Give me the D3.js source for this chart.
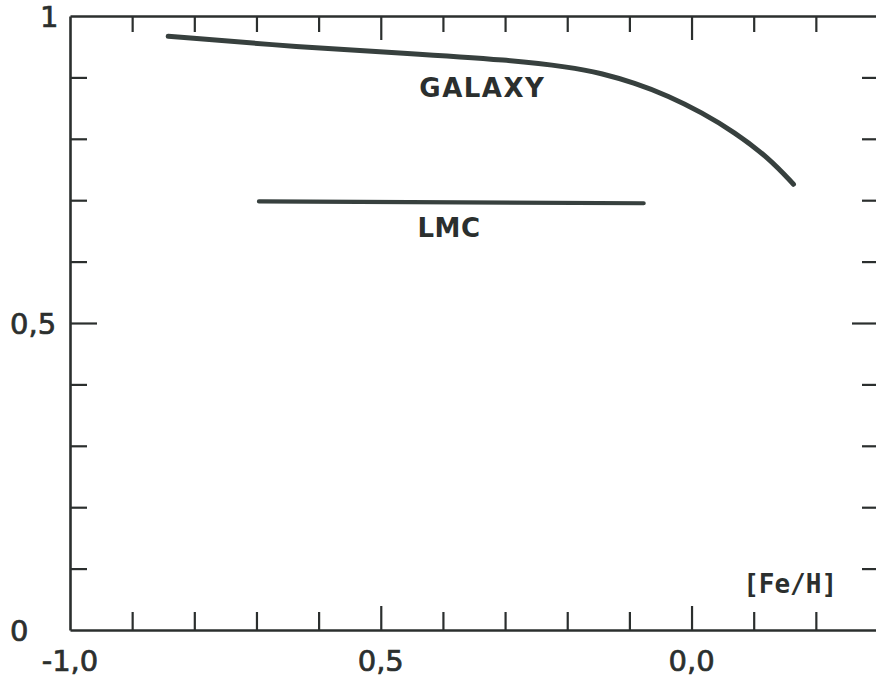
<!DOCTYPE html>
<html>
<head>
<meta charset="utf-8">
<script src="https://cdn.jsdelivr.net/npm/d3@7"></script>
<style>
  body { margin: 0; background: #fff; }
  svg { display: block; }
</style>
</head>
<body>
<svg id="chart" width="876" height="683"></svg>
<script>
// Galaxy relation: [Fe/H] vs ratio
const galaxyFeH   = [-0.842, -0.627, -0.466, -0.289, -0.198, -0.145, -0.092, -0.037, 0.016, 0.069, 0.124, 0.164];
const galaxyRatio = [ 0.967,  0.949,  0.940,  0.928,  0.917,  0.907,  0.891,  0.870, 0.843, 0.811, 0.769, 0.726];

// LMC relation
const lmcFeH   = [-0.696, -0.077];
const lmcRatio = [ 0.698,  0.695];

// Axis ticks and labels
const xMinorTicks = [-0.9, -0.8, -0.7, -0.6, -0.4, -0.3, -0.2, -0.1, 0.1, 0.2];
const xMajorTicks = [-0.5, 0.0];
const xLabelValues = [-1.0, -0.5, 0.0];
const xLabelTexts  = ["-1,0", "0,5", "0,0"];

const yMinorTicks = [0.1, 0.2, 0.3, 0.4, 0.6, 0.7, 0.8, 0.9];
const yMajorTicks = [0.5];
const yLabelValues = [0, 0.5, 1];
const yLabelTexts  = ["0", "0,5", "1"];

const seriesNames = ["GALAXY", "LMC"];
const axisTitle = "[Fe/H]";

const svg = d3.select("#chart");
const ink = "#2b2f2e";
const curveInk = "#37403e";

const x = d3.scaleLinear().domain([-1.0, 0.3]).range([70, 878]);
const y = d3.scaleLinear().domain([0, 1]).range([630, 16]);

// Frame axes with inward ticks
function drawAxis(axisGen, tx, ty, minor, major, minorLen, majorLen) {
  const g = svg.append("g").attr("transform", `translate(${tx},${ty})`);
  g.call(axisGen.tickValues(minor).tickSize(-minorLen).tickSizeOuter(0).tickFormat(""));
  const gm = svg.append("g").attr("transform", `translate(${tx},${ty})`);
  gm.call(axisGen.tickValues(major).tickSize(-majorLen).tickSizeOuter(0).tickFormat(""));
  gm.select(".domain").remove();
  [g, gm].forEach(s => {
    s.select(".domain").attr("stroke", ink).attr("stroke-width", 2.6);
    s.selectAll(".tick line").attr("stroke", ink).attr("stroke-width", 2.2);
  });
}
drawAxis(d3.axisBottom(x), 0, y(0), xMinorTicks, xMajorTicks, 18, 24);
drawAxis(d3.axisTop(x), 0, y(1), xMinorTicks, xMajorTicks, 16, 24);
drawAxis(d3.axisLeft(y), x(-1.0), 0, yMinorTicks, yMajorTicks, 17, 27);
drawAxis(d3.axisRight(y), x(0.3), 0, yMinorTicks, yMajorTicks, 16, 26);

// Tick labels
const labelFont = "'DejaVu Sans', 'Liberation Sans', sans-serif";
svg.append("g").selectAll("text")
  .data(xLabelValues)
  .join("text")
  .attr("x", d => x(d))
  .attr("y", 671)
  .attr("text-anchor", "middle")
  .attr("font-family", labelFont)
  .attr("font-size", 29)
  .attr("fill", ink)
  .attr("stroke", ink).attr("stroke-width", 0.7)
  .text((d, i) => xLabelTexts[i]);

const yLabelX = { 0: 10, 0.5: 10, 1: 40 };
svg.append("g").selectAll("text")
  .data(yLabelValues)
  .join("text")
  .attr("x", d => yLabelX[d])
  .attr("y", d => y(d) + 11)
  .attr("text-anchor", "start")
  .attr("font-family", labelFont)
  .attr("font-size", 29)
  .attr("fill", ink)
  .attr("stroke", ink).attr("stroke-width", 0.7)
  .text((d, i) => yLabelTexts[i]);

// Relation curves
const line = d3.line()
  .x(d => x(d[0]))
  .y(d => y(d[1]))
  .curve(d3.curveBasis);

svg.append("path")
  .datum(galaxyFeH.map((v, i) => [v, galaxyRatio[i]]))
  .attr("d", line)
  .attr("fill", "none")
  .attr("stroke", curveInk)
  .attr("stroke-width", 5)
  .attr("stroke-linecap", "round");

svg.append("path")
  .datum(lmcFeH.map((v, i) => [v, lmcRatio[i]]))
  .attr("d", line)
  .attr("fill", "none")
  .attr("stroke", curveInk)
  .attr("stroke-width", 4.2)
  .attr("stroke-linecap", "round");

// Series names and axis title
const nameFont = "'DejaVu Sans', sans-serif";
svg.append("text")
  .attr("x", x(-0.438)).attr("y", y(0.868))
  .attr("font-family", nameFont).attr("font-weight", "bold")
  .attr("font-size", 26).attr("letter-spacing", 1.5)
  .attr("fill", ink)
  .text(seriesNames[0]);

svg.append("text")
  .attr("x", x(-0.441)).attr("y", y(0.640))
  .attr("font-family", nameFont).attr("font-weight", "bold")
  .attr("font-size", 26).attr("letter-spacing", 0.5)
  .attr("fill", ink)
  .text(seriesNames[1]);

svg.append("text")
  .attr("x", x(0.083)).attr("y", y(0.060))
  .attr("font-family", "'DejaVu Sans Mono', monospace").attr("font-weight", "bold")
  .attr("font-size", 26)
  .attr("fill", ink)
  .text(axisTitle);
</script>
</body>
</html>
